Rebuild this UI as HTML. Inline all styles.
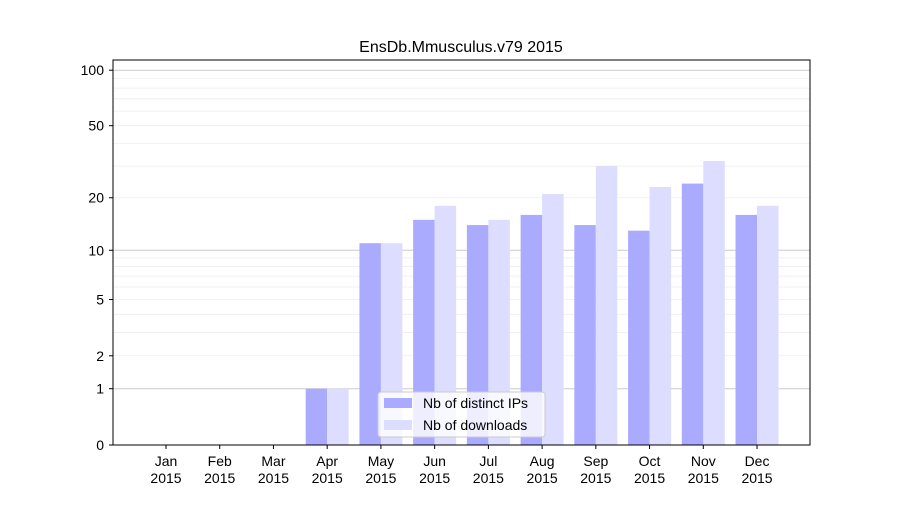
<!DOCTYPE html>
<html><head><meta charset="utf-8"><style>
body{margin:0;background:#fff;font-family:"Liberation Sans","DejaVu Sans",sans-serif;}
</style></head><body>
<svg id="chart" width="900" height="500" xmlns="http://www.w3.org/2000/svg" font-family="Liberation Sans, DejaVu Sans, sans-serif">
<rect width="900" height="500" fill="#fff"/>
<text x="461" y="52" text-anchor="middle" font-size="16">EnsDb.Mmusculus.v79 2015</text>
<g id="grid"></g><g id="bars"></g><g id="axes"></g>
<rect x="113" y="60" width="697" height="385" fill="none" stroke="#000" stroke-width="1"/>
<g>
<rect x="378" y="392" width="167" height="45" fill="#fff" fill-opacity="0.8" stroke="#ccc" rx="3"/>
<rect x="384" y="398" width="28" height="10" fill="#aaaaff"/>
<text x="423" y="408" font-size="14">Nb of distinct IPs</text>
<rect x="384" y="420" width="28" height="10" fill="#ddddff"/>
<text x="423" y="430" font-size="14">Nb of downloads</text>
</g>
</svg>
<script>
const months=["Jan","Feb","Mar","Apr","May","Jun","Jul","Aug","Sep","Oct","Nov","Dec"];
const ips=[0,0,0,1,11,15,14,16,14,13,24,16];
const downloads=[0,0,0,1,11,18,15,21,30,23,32,18];
const yTicks=[0,1,2,5,10,20,50,100];
const NS="http://www.w3.org/2000/svg";
function y(v){return 445-Math.log10(1+v)*187;}
function x(i){return 166+i*53.73;}
function mk(tag,attrs,parent){const e=document.createElementNS(NS,tag);for(const k in attrs)e.setAttribute(k,attrs[k]);document.getElementById(parent).appendChild(e);return e;}
// minor grid
for(const base of [1,10]){for(let m=2;m<=9;m++){const v=m*base;const g=mk("line",{x1:113,x2:810,y1:y(v),y2:y(v),stroke:"#eeeeee","stroke-width":0.8},"grid");

}}
for(const v of [1,10,100]){const g=mk("line",{x1:113,x2:810,y1:y(v),y2:y(v),stroke:"#cccccc","stroke-width":1},"grid");

}
months.forEach((m,i)=>{
 const a=mk("rect",{x:x(i)-21.5,y:y(ips[i]),width:21.5,height:445-y(ips[i]),fill:"#aaaaff"},"bars");
 
 
 const b=mk("rect",{x:x(i),y:y(downloads[i]),width:21.5,height:445-y(downloads[i]),fill:"#ddddff"},"bars");
 
 
 mk("line",{x1:x(i),x2:x(i),y1:445,y2:449,stroke:"#000"},"axes");
 const t=mk("text",{x:x(i),y:466,"text-anchor":"middle","font-size":14},"axes");
 t.textContent=m;
 
 
 const t2=mk("text",{x:x(i),y:483,"text-anchor":"middle","font-size":14},"axes");
 t2.textContent="2015";
 
 
});
yTicks.forEach(v=>{
 mk("line",{x1:109,x2:113,y1:y(v),y2:y(v),stroke:"#000"},"axes");
 const t=mk("text",{x:104,y:y(v)+5,"text-anchor":"end","font-size":14},"axes");
 t.textContent=v;
 
 
});
</script>
</body></html>
